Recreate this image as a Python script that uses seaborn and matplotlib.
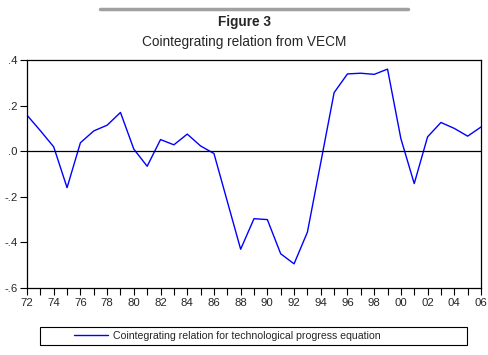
import numpy as np
import pandas as pd
import matplotlib
matplotlib.use("Agg")
import matplotlib.pyplot as plt
import seaborn as sns
from matplotlib.ticker import MultipleLocator, FuncFormatter
from matplotlib.patches import Rectangle

years = list(range(1972, 2007))
coint = [0.158, 0.090, 0.019, -0.160, 0.037, 0.089, 0.114, 0.170, 0.009, -0.066,
         0.051, 0.028, 0.075, 0.023, -0.010, -0.220, -0.430, -0.296, -0.300, -0.450,
         -0.494, -0.355, -0.050, 0.257, 0.339, 0.342, 0.337, 0.360, 0.055, -0.142,
         0.063, 0.126, 0.100, 0.066, 0.106]
series_name = "Cointegrating relation for technological progress equation"

df = pd.DataFrame({"Year": years, "Value": coint})

sns.set_style("white")
plt.rcParams["font.family"] = ["Liberation Sans", "DejaVu Sans"]

fig = plt.figure(figsize=(4.89, 3.55), dpi=100)
ax = fig.add_axes([27 / 489, 1 - 288 / 355, 454 / 489, 228 / 355])

sns.lineplot(data=df, x="Year", y="Value", color="#0000ff", linewidth=1.0,
             label=series_name, ax=ax)
ax.axhline(0, color="black", linewidth=0.9)

ax.set_xlim(1972, 2006)
ax.set_ylim(-0.6, 0.4)
ax.xaxis.set_major_locator(MultipleLocator(2))
ax.xaxis.set_minor_locator(MultipleLocator(1))
ax.xaxis.set_major_formatter(FuncFormatter(lambda v, p: "%02d" % (int(round(v)) % 100)))
ax.yaxis.set_major_locator(MultipleLocator(0.2))


def yfmt(v, p):
    s = "%.1f" % v
    if s == "-0.0":
        s = "0.0"
    return s.replace("0.", ".", 1)


ax.yaxis.set_major_formatter(FuncFormatter(yfmt))
ax.tick_params(axis="both", which="both", direction="out", length=5, width=0.8,
               color="black", labelsize=8.2, pad=2, bottom=True, left=True)
ax.set_xlabel("")
ax.set_ylabel("")
for sp in ax.spines.values():
    sp.set_color("black")
    sp.set_linewidth(0.9)

fig.text(0.5, 1 - 22 / 355, "Figure 3", ha="center", va="center",
         fontsize=9.8, fontweight="bold")
fig.text(0.5, 1 - 42 / 355, "Cointegrating relation from VECM", ha="center",
         va="center", fontsize=9.8)
fig.add_artist(plt.Line2D([100 / 489, 408 / 489], [1 - 9 / 355, 1 - 9 / 355],
                          color="#a0a0a0", linewidth=2.5, transform=fig.transFigure))

# legend: separate frame, entry shifted right as in the original
fig.add_artist(Rectangle((40 / 489, 1 - 345 / 355), 427 / 489, 18 / 355,
                         transform=fig.transFigure, fill=False,
                         edgecolor="black", linewidth=0.8))
leg = ax.legend(loc="center left", bbox_to_anchor=(74 / 489, 1 - 336 / 355),
                bbox_transform=fig.transFigure, frameon=False, fontsize=7.6,
                handlelength=3.2, handletextpad=0.45,
                borderpad=0, borderaxespad=0)

fig.savefig("out.png", dpi=100)
